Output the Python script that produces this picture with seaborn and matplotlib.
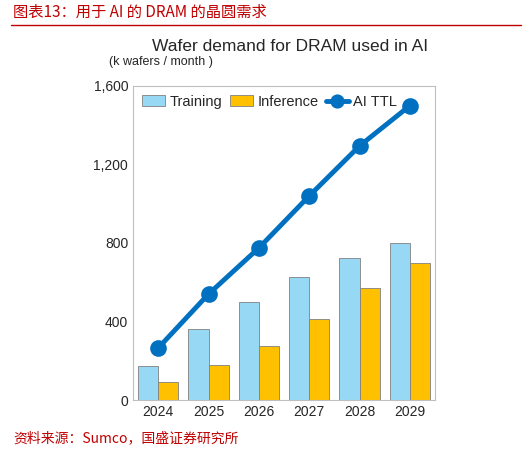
import matplotlib
matplotlib.use("Agg")
import matplotlib.pyplot as plt
import seaborn as sns
import pandas as pd
import numpy as np

years = ["2024", "2025", "2026", "2027", "2028", "2029"]
training = [175, 360, 500, 625, 725, 800]
inference = [90, 180, 275, 415, 570, 700]
ai_ttl = [265, 540, 775, 1040, 1295, 1500]

sns.set_theme(style="white")
plt.rcParams['font.family'] = ['Liberation Sans', 'Noto Sans CJK SC', 'DejaVu Sans']

fig = plt.figure(figsize=(5.32, 4.5), dpi=100)
ax = fig.add_axes([0.25, 0.111, 0.568, 0.698])

df = pd.DataFrame({"year": years * 2,
                   "value": training + inference,
                   "series": ["Training"] * 6 + ["Inference"] * 6})
sns.barplot(data=df, x="year", y="value", hue="series", ax=ax,
            palette=["#97D9F5", "#FFC000"], width=0.8,
            edgecolor="#808080", linewidth=0.6, saturation=1)
sns.lineplot(x=np.arange(6), y=ai_ttl, ax=ax, color="#0070C0", lw=3.5,
             marker="o", markersize=12, markeredgewidth=0, label="AI TTL")

ax.set_ylim(0, 1600)
ax.set_xlim(-0.5, 5.5)
ax.set_yticks([0, 400, 800, 1200, 1600])
ax.set_yticklabels(["0", "400", "800", "1,200", "1,600"], fontsize=10)
ax.tick_params(axis='x', labelsize=10, length=0)
ax.tick_params(axis='y', length=0)
ax.set_xlabel("")
ax.set_ylabel("")
for s in ax.spines.values():
    s.set_color("#BFBFBF")
    s.set_linewidth(0.8)

ax.legend(loc="upper left", ncol=3, frameon=False, fontsize=10.5,
          bbox_to_anchor=(0.0, 1.0), handlelength=1.6, columnspacing=0.5,
          handletextpad=0.3, borderaxespad=0.2, markerscale=0.85)

fig.text(0.545, 0.897, "Wafer demand for DRAM used in AI", ha="center", va="center", fontsize=12.5)
fig.text(0.205, 0.862, "(k wafers / month )", ha="left", va="center", fontsize=9)

fig.text(0.025, 0.972, "图表13：用于 AI 的 DRAM 的晶圆需求", ha="left", va="center",
         fontsize=11, color="#C00000", style="italic",
         family=['Noto Sans CJK SC', 'DejaVu Sans'])
fig.add_artist(plt.Line2D([0.02, 0.98], [0.945, 0.945], color="#C00000", lw=1))
fig.text(0.025, 0.025, "资料来源：Sumco，国盛证券研究所", ha="left", va="center",
         fontsize=10, color="#C00000", style="italic",
         family=['Noto Sans CJK SC', 'DejaVu Sans'])

fig.savefig("out.png", dpi=100)
